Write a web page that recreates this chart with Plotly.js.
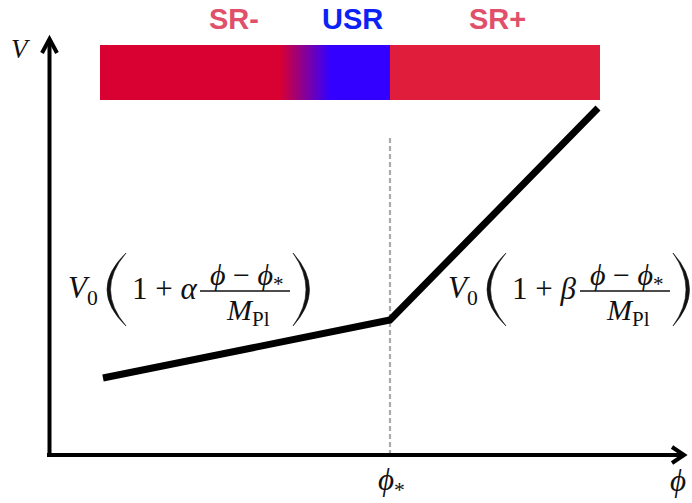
<!DOCTYPE html>
<html>
<head>
<meta charset="utf-8">
<script src="https://cdn.plot.ly/plotly-3.0.1.min.js"></script>
<style>html,body{margin:0;padding:0;background:#fff;}#chart{width:692px;height:503px;}</style>
</head>
<body>
<div id="chart"></div>
<script>
// ---- data (phi in units relative to phi*, V in arbitrary units) ----
const potentialPhi = [-2.87, 0, 2.08];
const potentialV   = [0.77, 1.35, 3.47];
const phiStar = 0;
const regionLabels = ['SR-', 'USR', 'SR+'];
const regionLabelPhi = [-1.56, -0.38, 1.07];
const barPhiStart = -2.9;
const barPhiEnd = 2.1;
const transitionPhi = [-1.1, -0.6]; // SR- -> USR colour transition
const barV = [3.55, 4.10];

// ---- pixel helpers for layout-only placement ----
const X = px => (px - 390) / 100;
const Y = py => (455 - py) / 100;
const P = (px, py) => X(px) + ',' + Y(py);

const serif = 'Liberation Serif, DejaVu Serif, serif';
const sans = 'Liberation Sans, Arial, sans-serif';

const traces = [];
// left bar with gradient (SR- to USR)
const x0 = barPhiStart, x1 = phiStar;
const span = x1 - x0;
traces.push({
  type: 'scatter', mode: 'lines',
  x: [x0, x1, x1, x0, x0], y: [barV[0], barV[0], barV[1], barV[1], barV[0]],
  fill: 'toself', line: {width: 0, color: 'rgba(0,0,0,0)'},
  fillgradient: {type: 'horizontal', start: x0, stop: x1,
    colorscale: [[0, '#D90032'], [(transitionPhi[0] - x0) / span, '#D90032'],
                 [(transitionPhi[1] - x0) / span, '#3300FF'], [1, '#3300FF']]},
  hoverinfo: 'skip', showlegend: false
});
// right bar (SR+)
traces.push({
  type: 'scatter', mode: 'lines',
  x: [phiStar, barPhiEnd, barPhiEnd, phiStar, phiStar], y: [barV[0], barV[0], barV[1], barV[1], barV[0]],
  fill: 'toself', fillcolor: '#E01E3C', line: {width: 0, color: 'rgba(0,0,0,0)'},
  hoverinfo: 'skip', showlegend: false
});
// potential
traces.push({
  type: 'scatter', mode: 'lines', x: potentialPhi, y: potentialV,
  line: {color: '#000', width: 7}, hoverinfo: 'skip', showlegend: false
});

const shapes = [];
// dashed phi* line
shapes.push({type: 'line', xref: 'x', yref: 'y', x0: phiStar, x1: phiStar, y0: 0, y1: Y(138),
  line: {color: '#AAAAAA', width: 2.2, dash: '5px,3px'}, layer: 'below'});
// axes
shapes.push({type: 'line', xref: 'x', yref: 'y', x0: X(49.5), x1: X(49.5), y0: Y(457), y1: Y(40), line: {color: '#000', width: 4}});
shapes.push({type: 'line', xref: 'x', yref: 'y', x0: X(47), x1: X(683), y0: 0, y1: 0, line: {color: '#000', width: 4}});
shapes.push({type: 'path', xref: 'x', yref: 'y', path: 'M' + P(42, 53) + ' L' + P(49.5, 39) + ' L' + P(57, 53), line: {color: '#000', width: 4}});
shapes.push({type: 'path', xref: 'x', yref: 'y', path: 'M' + P(672, 447) + ' L' + P(684, 455) + ' L' + P(672, 463), line: {color: '#000', width: 4}});

const annotations = [];
function ann(text, px, py, size, opts) {
  annotations.push(Object.assign({xref: 'x', yref: 'y', x: X(px), y: Y(py), text: text, showarrow: false,
    font: {family: serif, size: size, color: '#111'}, xanchor: 'center', yanchor: 'middle'}, opts || {}));
}
// region labels
const regionColors = ['#E0506A', '#0A22F5', '#E0506A'];
regionLabels.forEach((t, i) => {
  annotations.push({xref: 'x', yref: 'y', x: regionLabelPhi[i], y: Y(19), text: '<b>' + t + '</b>', showarrow: false,
    font: {family: sans, size: 29, color: regionColors[i]}, xanchor: 'center', yanchor: 'middle'});
});
// axis labels
ann('<i>V</i>', 21, 49, 27);
ann('<i>ϕ</i><sub>*</sub>', 391, 482, 31);
ann('<i>ϕ</i>', 678, 480, 31);

// formulas
function formula(dx, coef) {
  ann('<i>V</i><sub>0</sub>', 66 + dx, 290, 31, {xanchor: 'left'});
  ann('1 + <i>' + coef + '</i>', 130 + dx, 288, 31, {xanchor: 'left'});
  ann('<i>ϕ</i> − <i>ϕ</i><sub>*</sub>', 246 + dx, 277, 30);
  ann('<i>M</i><sub>Pl</sub>', 248 + dx, 312, 30);
  shapes.push({type: 'line', xref: 'x', yref: 'y', x0: X(200 + dx), x1: X(290 + dx), y0: Y(291), y1: Y(291), line: {color: '#111', width: 1.5}});
  // parentheses
  shapes.push({type: 'path', xref: 'x', yref: 'y', fillcolor: '#111', line: {width: 0.6, color: '#111'},
    path: 'M' + P(126 + dx, 253) + ' Q' + P(88 + dx, 289.5) + ' ' + P(126 + dx, 326) + ' Q' + P(95 + dx, 289.5) + ' ' + P(126 + dx, 253) + ' Z'});
  shapes.push({type: 'path', xref: 'x', yref: 'y', fillcolor: '#111', line: {width: 0.6, color: '#111'},
    path: 'M' + P(293 + dx, 253) + ' Q' + P(326 + dx, 289.5) + ' ' + P(293 + dx, 326) + ' Q' + P(319 + dx, 289.5) + ' ' + P(293 + dx, 253) + ' Z'});
}
formula(0, 'α');
formula(380, 'β');

const layout = {
  width: 692, height: 503,
  margin: {l: 0, r: 0, t: 0, b: 0},
  paper_bgcolor: '#fff', plot_bgcolor: '#fff',
  xaxis: {range: [X(0), X(692)], visible: false, fixedrange: true},
  yaxis: {range: [Y(503), Y(0)], visible: false, fixedrange: true},
  shapes: shapes, annotations: annotations, showlegend: false
};
Plotly.newPlot('chart', traces, layout, {staticPlot: true});
</script>
</body>
</html>
